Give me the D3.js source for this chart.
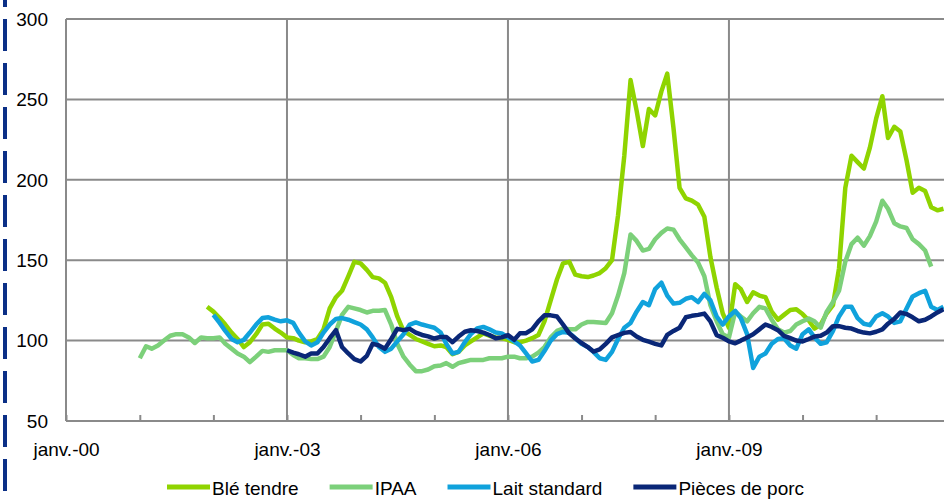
<!DOCTYPE html>
<html>
<head>
<meta charset="utf-8">
<script src="https://cdn.jsdelivr.net/npm/d3@7"></script>
<style>
  body { margin: 0; background: #fff; }
  svg text { font-family: "Liberation Sans", Arial, sans-serif; font-size: 19px; fill: #000; }
</style>
</head>
<body>
<div id="chart"></div>
<script>
/* series, monthly index values; each starts at its own month */
var seriesNames = ["Blé tendre", "IPAA", "Lait standard", "Pièces de porc"];
var seriesStart = ["2001-12", "2001-01", "2002-01", "2003-01"];

var ble = [121,118,114,110,105,101,96,99,104,110,110.5,107.5,105,102,101.5,100,99,99.5,101,107,
  120,127,131,140,149,148,144,139.5,138.7,136,127,115,106,103.5,101,99.5,98,96.5,97,96,
  91.5,93,97,99.5,102,104.5,103,102,101.5,100.5,99,99,100,101.5,103.5,112,125,138,148,149,
  141,140,139.5,140.5,142,145,150,178,215,262,243,221,244,240,255,266,232,195,188.5,187,
  184.5,177,152,133,117,108,135,132,124,130,128,127,118,113,116,119,119.5,116.5,112.5,107.5,
  110,117,122,145,195,215,211,207,220,238,252,226,233,230,212,192,195,193,183,181,182];

var ipaa = [89,96.5,95,97,100,103,104,104,102,98.5,102,101.5,101.5,102,98,95,92,90,86.6,90,
  93.6,93,94,94,94,91,89,89,88.5,88.5,90,96,106,116,121,120,119,117.5,118.5,118.5,
  119,110,98,90,85,81,81,82,84,84.5,86,83.7,86,87,88,88,88,89,89,89,
  90,90,89,89,90,92.5,96,102,106,107.5,107,107,110,111.6,111.6,111.3,111,117,128,142,
  166,162,156,157,163,167,169.7,169,163,158,153,148.5,140,122,112,104,102,118,115,112,
  117,121,120,113,107,105,106,110,112,113.7,112,108,118,124,131,149,160,164,159,165,
  174,187,182,173,171,170,163,160,156,146];

var lait = [116,111,106,101,99,100.5,105,110,114,114.5,113,112,112.6,111,105,99.5,97,99,105,110,
  113.5,114,113,111.5,110,107,102,96,93,95,99.5,104,110,111.3,110,109,108,105,98,92,
  93,99,104,107.5,108.5,107,105,104.5,102,99.5,97,92,87,88,93.5,100,104,105.4,104.8,101.5,
  98,96,93,89,88,93,101,108,111,118,124,122,132,136,128,123,123.5,126,127,124,
  129,125,115,110,115,118.5,114,104,83,90,92,98,101,101.5,97,95,104,107,102,98,
  99,106,115,121,121,114,110.5,109.6,115,117,115,111,112,120,127.5,129.5,131,121,119,121];

var porc = [94,92.5,91.5,90,92,92,96,101.5,106.5,96,92,88.5,87,90.5,98,97,95,101,107.3,106.5,
  107.3,105,103.5,102.6,101.3,102.3,102.3,99,102.5,105.5,106.4,106,105,103.5,101.5,102,103.4,100.5,104.5,104.6,
  107,112,115.7,115.7,115,110,104.5,101.3,98.5,96,93.2,94.5,98,102,103.4,104.8,105.4,102.5,100.5,99.3,
  98,97,103.5,106,108,114.5,115.4,116,116.8,112,103.4,101.8,99.5,98.3,100,102,104,107,110,108.5,
  106.5,103,101.5,100,99.5,101,102.5,103,105,109,109,108,107.5,106,105,104.5,105.5,107,110.5,113.5,
  117.5,116.5,114.5,112,113,115,117.5,119.5];

var seriesValues = [ble, ipaa, lait, porc];
var seriesColors = ["#8fd400", "#7cd07a", "#10a2dc", "#0a2777"];

var yTicks = [50, 100, 150, 200, 250, 300];
var xTickLabels = ["janv.-00", "janv.-03", "janv.-06", "janv.-09"];

/* layout */
var width = 944, height = 499;
var margin = { top: 19, left: 66, bottom: 78 };
var plotRight = margin.left + 144 * 6.137;

var svg = d3.select("#chart")
            .append("svg")
            .attr("width", width)
            .attr("height", height);

var parseMonth = d3.timeParse("%Y-%m");

var x = d3.scaleTime()
          .domain([new Date(2000, 0, 1), new Date(2012, 0, 1)])
          .range([margin.left, plotRight]);

var y = d3.scaleLinear()
          .domain([50, 300])
          .range([height - margin.bottom, margin.top]);

/* navy dashed rule on the far left */
svg.append("line")
   .attr("x1", 5).attr("x2", 5)
   .attr("y1", -25).attr("y2", height)
   .style("stroke", "#0b2f86")
   .style("stroke-width", 4)
   .style("stroke-dasharray", "32,12");

/* horizontal grid */
svg.append("g")
   .selectAll("line")
   .data(yTicks)
   .enter()
   .append("line")
   .attr("x1", margin.left)
   .attr("x2", width)
   .attr("y1", function (d) { return y(d); })
   .attr("y2", function (d) { return y(d); })
   .style("stroke", "#8a8a8a")
   .style("stroke-width", 2);

/* vertical grid every three years, counted from 2000 */
var years = d3.timeYear.range(new Date(2000, 0, 1), new Date(2012, 0, 2));
var labelYears = years.filter(function (d) { return (d.getFullYear() - 2000) % 3 === 0; });

svg.append("g")
   .selectAll("line")
   .data(labelYears.slice(1))
   .enter()
   .append("line")
   .attr("x1", function (d) { return x(d); })
   .attr("x2", function (d) { return x(d); })
   .attr("y1", y(300))
   .attr("y2", y(50))
   .style("stroke", "#8a8a8a")
   .style("stroke-width", 2);

/* x axis with yearly ticks pointing up */
var xAxis = d3.axisBottom(x)
              .tickValues(years)
              .tickSize(-6)
              .tickPadding(0)
              .tickFormat(function (d) {
                var i = labelYears.map(Number).indexOf(+d);
                return i >= 0 && i < xTickLabels.length ? xTickLabels[i] : "";
              });

var gx = svg.append("g")
            .attr("transform", "translate(0," + y(50) + ")")
            .call(xAxis);
gx.select(".domain").remove();
gx.selectAll(".tick line").style("stroke", "#8a8a8a").style("stroke-width", 2);
gx.selectAll(".tick text")
  .attr("y", 35)
  .attr("dy", 0)
  .style("font-size", "19px")
  .style("font-family", "'Liberation Sans', Arial, sans-serif")
  .style("fill", "#000");

/* y axis line + labels */
svg.append("line")
   .attr("x1", margin.left).attr("x2", margin.left)
   .attr("y1", y(300)).attr("y2", y(50))
   .style("stroke", "#8a8a8a")
   .style("stroke-width", 2);

svg.append("g")
   .selectAll("text")
   .data(yTicks)
   .enter()
   .append("text")
   .attr("x", 48)
   .attr("y", function (d) { return y(d); })
   .attr("dy", "0.36em")
   .style("text-anchor", "end")
   .text(function (d) { return d; });

/* series lines */
var line = d3.line()
             .x(function (d) { return x(d.date); })
             .y(function (d) { return y(d.value); });

var series = seriesNames.map(function (name, i) {
  var start = parseMonth(seriesStart[i]);
  return {
    name: name,
    color: seriesColors[i],
    points: seriesValues[i].map(function (v, j) {
      return { date: d3.timeMonth.offset(start, j), value: v };
    })
  };
});

svg.append("defs").append("clipPath").attr("id", "plot")
   .append("rect")
   .attr("x", margin.left).attr("y", 0)
   .attr("width", width - margin.left).attr("height", height);

svg.append("g")
   .attr("clip-path", "url(#plot)")
   .selectAll("path")
   .data(series)
   .enter()
   .append("path")
   .attr("d", function (d) { return line(d.points); })
   .style("fill", "none")
   .style("stroke", function (d) { return d.color; })
   .style("stroke-width", 4.5)
   .style("stroke-linejoin", "round");

/* legend along the bottom */
var legend = svg.append("g").attr("transform", "translate(0,495)");
var lx = 167;
series.forEach(function (s) {
  legend.append("line")
        .attr("x1", lx).attr("x2", lx + 43)
        .attr("y1", -8).attr("y2", -8)
        .style("stroke", s.color)
        .style("stroke-width", 5);
  var t = legend.append("text")
                .attr("x", lx + 45)
                .attr("y", 0)
                .text(s.name);
  lx += 45 + t.node().getComputedTextLength() + 31;
});
</script>
</body>
</html>
